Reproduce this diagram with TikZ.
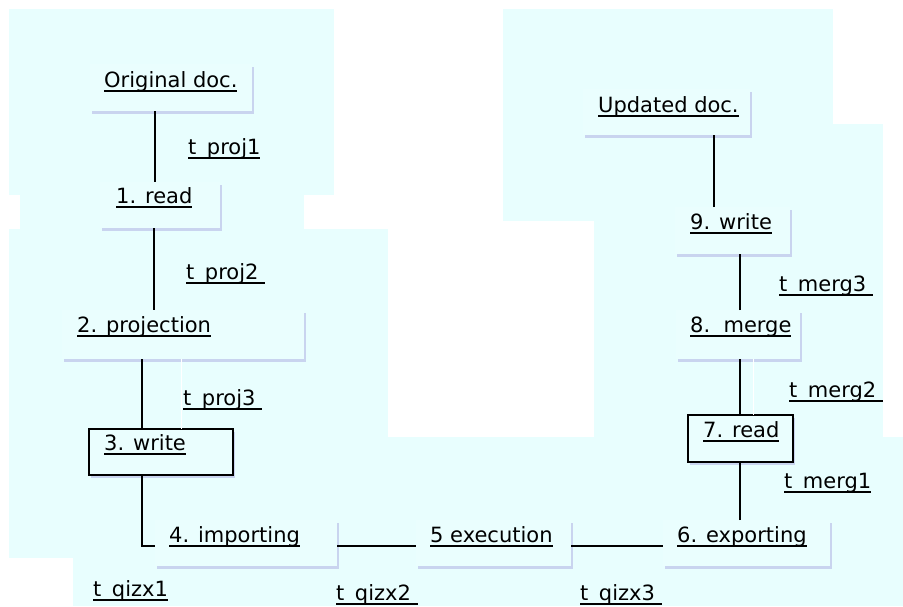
\documentclass[tikz,border=0pt]{standalone}
\usepackage{fontspec}
\setmainfont{DejaVu Sans}
\usetikzlibrary{calc,shadows}
\definecolor{bgc}{RGB}{232,254,254}
\definecolor{boxc}{RGB}{234,254,254}
\definecolor{shc}{RGB}{198,208,238}
\newcommand\ult[1]{\setbox0=\hbox{#1}\rlap{\rule[-4.5pt]{\wd0}{1.5pt}}\box0}
\begin{document}
\begin{tikzpicture}[x=1pt,y=-1pt,
  bgfill/.style={fill=bgc, draw=none},
  box/.style n args={2}{fill=boxc, draw=none, minimum width=#1, minimum height=#2,
    anchor=north west, inner sep=0pt, outer sep=0pt,
    drop shadow={shadow xshift=2pt, shadow yshift=-2.5pt, fill=shc, opacity=0.9}},
  bbox/.style n args={2}{box={#1}{#2}, draw=black, line width=2pt},
  txt/.style={inner sep=0pt, anchor=base west, font=\fontsize{21}{25}\selectfont},
  conn/.style={draw=black, line width=2pt},
  wline/.style={draw=white, line width=1pt}]
\useasboundingbox (0,0) rectangle (903,606);
% background regions
\fill[bgc] (9,9) rectangle (334,195);
\fill[bgc] (20,195) rectangle (304,229);
\fill[bgc] (9,229) rectangle (388,558);
\fill[bgc] (9,437) rectangle (903,558);
\fill[bgc] (73,558) rectangle (903,606);
\fill[bgc] (503,9) rectangle (833,124);
\fill[bgc] (503,124) rectangle (883,221);
\fill[bgc] (594,221) rectangle (883,437);
% boxes
\node[box={162}{47}] (orig) at (90,64) {};
\node[box={120}{46}] (read1) at (100,182) {};
\node[box={242}{49}] (proj) at (62,310) {};
\node[bbox={144}{46}] (write3) at (89,429) {};
\node[box={182}{46}] (imp4) at (155,520) {};
\node[box={155}{46}] (exec5) at (416,520) {};
\node[box={167}{46}] (exp6) at (663,520) {};
\node[bbox={105}{47}] (read7) at (688,415) {};
\node[box={124}{49}] (merge8) at (676,310) {};
\node[box={115}{47}] (write9) at (675,207) {};
\node[box={167}{46}] (upd) at (583,89) {};
% box texts
\node[txt] (orig-t) at ($(orig.north west)+(14,23)$) {\ult{Original doc.}};
\node[txt] (read1-t) at ($(read1.north west)+(16,21)$) {\ult{1. read}};
\node[txt] (proj-t) at ($(proj.north west)+(15,22)$) {\ult{2. projection}};
\node[txt] (write3-t) at ($(write3.north west)+(15,21)$) {\ult{3. write}};
\node[txt] (imp4-t) at ($(imp4.north west)+(14,22)$) {\ult{4. importing}};
\node[txt] (exec5-t) at ($(exec5.north west)+(14,22)$) {\ult{5 execution}};
\node[txt] (exp6-t) at ($(exp6.north west)+(14,22)$) {\ult{6. exporting}};
\node[txt] (read7-t) at ($(read7.north west)+(15,22)$) {\ult{7. read}};
\node[txt] (merge8-t) at ($(merge8.north west)+(14,22)$) {\ult{8.~~merge}};
\node[txt] (write9-t) at ($(write9.north west)+(15,22)$) {\ult{9. write}};
\node[txt] (upd-t) at ($(upd.north west)+(15,23)$) {\ult{Updated doc.}};
% connectors
\draw[conn] ([xshift=65pt]orig.south west) -- ([xshift=55pt]read1.north west);
\draw[conn] ([xshift=54pt]read1.south west) -- ([xshift=92pt]proj.north west);
\draw[conn] ([xshift=80pt]proj.south west) -- ([xshift=53pt]write3.north west);
\draw[wline] ([xshift=119pt]proj.south west) -- ([xshift=92pt]write3.north west);
\draw[conn] ([xshift=53pt]write3.south west) |- ([yshift=-3pt]imp4.west);
\draw[conn] ([yshift=-3pt]imp4.east) -- ([yshift=-3pt]exec5.west);
\draw[conn] ([yshift=-3pt]exec5.east) -- ([yshift=-3pt]exp6.west);
\draw[conn] ([xshift=77pt]exp6.north west) -- ([xshift=52pt]read7.south west);
\draw[conn] ([xshift=52pt]read7.north west) -- ([xshift=64pt]merge8.south west);
\draw[wline] ([xshift=65pt]read7.north west) -- ([xshift=77pt]merge8.south west);
\draw[conn] ([xshift=64pt]merge8.north west) -- ([xshift=65pt]write9.south west);
\draw[conn] ([xshift=39pt]write9.north west) -- ([xshift=131pt]upd.south west);
% connector labels
\node[txt] (lp1) at (188,154) {\ult{t\_proj1}};
\node[txt] (lp2) at (186,279) {\ult{t\_proj2 }};
\node[txt] (lp3) at (183,405) {\ult{t\_proj3 }};
\node[txt] (lm3) at (779,291) {\ult{t\_merg3 }};
\node[txt] (lm2) at (789,397) {\ult{t\_merg2 }};
\node[txt] (lm1) at (784,488) {\ult{t\_merg1}};
\node[txt] (lq1) at (93,596) {\ult{t\_qizx1}};
\node[txt] (lq2) at (336,600) {\ult{t\_qizx2 }};
\node[txt] (lq3) at (580,600) {\ult{t\_qizx3 }};
\end{tikzpicture}
\end{document}
